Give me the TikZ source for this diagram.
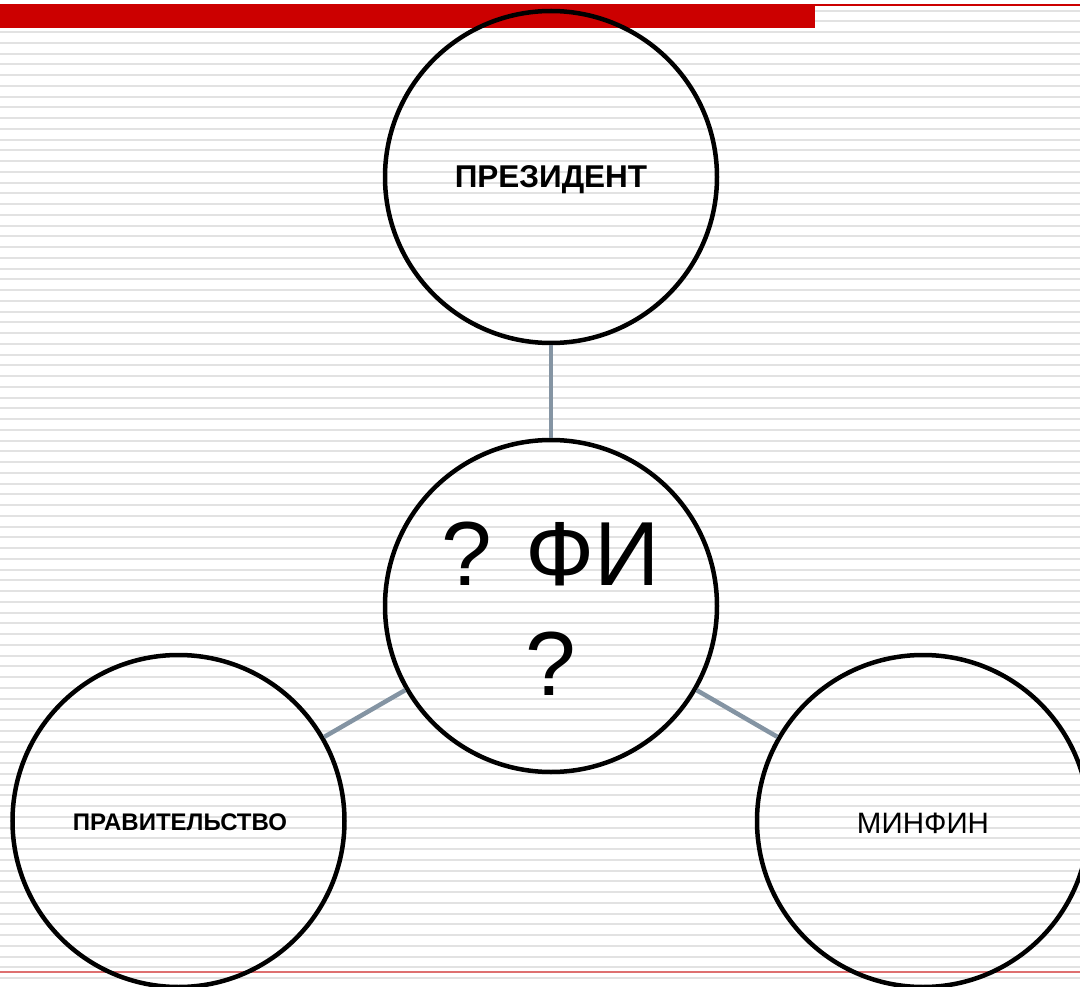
\documentclass[tikz,border=0pt]{standalone}
\usepackage{fontspec}
\setmainfont{Liberation Sans}
\definecolor{stripegray}{RGB}{226,226,226}
\definecolor{barred}{RGB}{204,0,0}
\definecolor{linered}{RGB}{222,112,112}
\definecolor{conngray}{RGB}{132,148,163}
\tikzset{
  orb/.style={circle, draw=black, line width=4.5pt, minimum size=332pt, inner sep=0pt, align=center},
  conn/.style={draw=conngray, line width=4.5pt},
  stripe/.style={fill=stripegray}
}
\begin{document}
\begin{tikzpicture}[x=1pt,y=-1pt]
\useasboundingbox (0,0) rectangle (1080,987);
\clip (0,0) rectangle (1080,987);
\fill[white] (0,0) rectangle (1080,987);
\foreach \i in {0,...,92} {
  \fill[stripe] (0,{9.6+10.75*\i}) rectangle (1080,{11.6+10.75*\i});
}
\fill[barred] (0,4) rectangle (815,28);
\fill[barred] (815,4) rectangle (1080,6);
\fill[linered] (0,971) rectangle (1080,972.6);
\node[orb] (pres) at (551,177) {};
\node[orb] (fi) at (551,606) {};
\node[orb] (gov) at (178.5,821) {};
\node[orb] (minfin) at (923,821) {};
\node[font=\bfseries\fontsize{31.5}{34}\selectfont] (presT) at (551,180) {ПРЕЗИДЕНТ};
\node[font=\bfseries\fontsize{24}{28}\selectfont] (govT) at (180,822) {ПРАВИТЕЛЬСТВО};
\node[font=\fontsize{29.5}{33}\selectfont] (minT) at (923,823) {МИНФИН};
\node[font=\fontsize{91}{110}\selectfont, align=center] (fiT) at (551,609) {? ФИ\\?};
\draw[conn] (pres) -- (fi);
\draw[conn] (fi) -- (gov);
\draw[conn] (fi) -- (minfin);
\end{tikzpicture}
\end{document}
